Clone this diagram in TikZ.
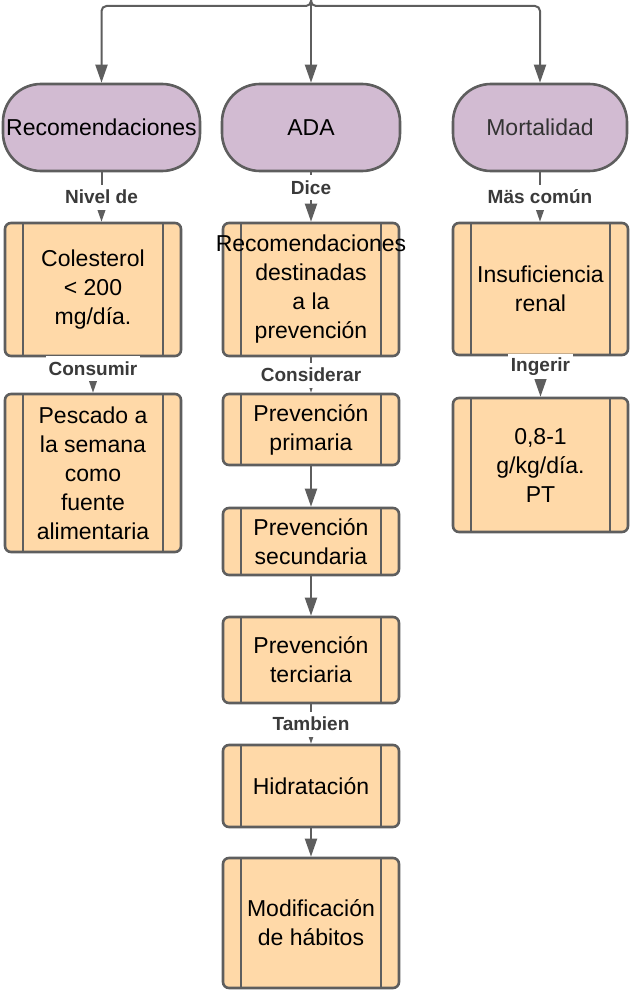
\documentclass[tikz,border=0pt]{standalone}
\usepackage{fontspec}
\setmainfont{Liberation Sans}
\usepackage{tikz}
\usetikzlibrary{arrows.meta, positioning}
\definecolor{termcolor}{RGB}{210,187,210}
\definecolor{proccolor}{RGB}{255,217,168}
\definecolor{linecolor}{RGB}{94,94,94}
\definecolor{lblcolor}{RGB}{58,58,58}

\begin{document}
\begin{tikzpicture}[
    x=0.5pt, y=-0.5pt,
    term/.style={draw=linecolor, line width=1.3pt, fill=termcolor, rounded corners=19pt, minimum width=#1, minimum height=43.5pt, inner sep=0pt, font=\fontsize{11.5}{14.5}\selectfont},
    stepbox/.style={draw=linecolor, line width=1.3pt, fill=proccolor, rounded corners=3pt, minimum width=88pt, minimum height=#1, inner sep=0pt, align=center, font=\fontsize{11.5}{14.5}\selectfont,
        path picture={
            \draw[linecolor, line width=1.3pt] ([xshift=9pt]path picture bounding box.north west) -- ([xshift=9pt]path picture bounding box.south west);
            \draw[linecolor, line width=1.3pt] ([xshift=-9pt]path picture bounding box.north east) -- ([xshift=-9pt]path picture bounding box.south east);
        }},
    arr/.style={draw=linecolor, line width=1pt, -{Triangle[length=9pt, width=6pt]}},
    lbl/.style={fill=white, text=lblcolor, font=\fontsize{9.5}{11}\selectfont\bfseries, inner sep=1.5pt, minimum height=12.5pt}
]
    \useasboundingbox (0,0) rectangle (629,990);

    % Top row
    \node[term=98.5pt] (rec) at (101.5,127.5) {Recomendaciones};
    \node[term=89pt] (ada) at (311,127.5) {ADA};
    \node[term=87pt, text=black!80] (mort) at (540,127.5) {Mortalidad};

    % Left column
    \node[stepbox=66.5pt] (col) at (93,289.5) {Colesterol\\< 200\\mg/día.};
    \node[stepbox=79pt] (pes) at (93,473) {Pescado a\\la semana\\como\\fuente\\alimentaria};

    % Middle column
    \node[stepbox=66.5pt] (rdp) at (311,289.5) {\makebox[0pt]{Recomendaciones}\\destinadas\\a la\\prevención};
    \node[stepbox=35.5pt] (prim) at (311,429.5) {Prevención\\primaria};
    \node[stepbox=33.5pt] (secu) at (311,541.5) {Prevención\\secundaria};
    \node[stepbox=43pt] (terc) at (311,660) {Prevención\\terciaria};
    \node[stepbox=41pt] (hid) at (311,786) {Hidratación};
    \node[stepbox=65pt] (mod) at (311,923) {Modificación\\de hábitos};

    % Right column
    \node[stepbox=66pt, minimum width=87.5pt] (ins) at (540.5,289) {Insuficiencia\\renal};
    \node[stepbox=67pt, minimum width=87.5pt] (gkg) at (540.5,465) {0,8-1\\g/kg/día.\\PT};

    % Incoming branch
    \coordinate (src) at (311,0);
    \coordinate (bar) at (0,6);
    \draw[arr] (src) -- (ada.north);
    \draw[arr, rounded corners=2.5pt] (src) |- (rec.north |- bar) -- (rec.north);
    \draw[arr, rounded corners=2.5pt] (src) |- (mort.north |- bar) -- (mort.north);

    % Connectors
    \draw[arr] (rec.south) -- node[lbl] {Nivel de} (rec.south |- col.north);
    \draw[arr] (ada.south) -- node[lbl, pos=0.31] {Dice} (rdp.north);
    \draw[arr] (mort.south) -- node[lbl] {Mäs común} (mort.south |- ins.north);
    \draw[arr] (col.south) -- node[lbl, pos=0.32] {Consumir} (pes.north);
    \draw[arr] (rdp.south) -- node[lbl] {Considerar} (prim.north);
    \draw[arr] (prim) -- (secu);
    \draw[arr] (secu) -- (terc);
    \draw[arr] (terc.south) -- node[lbl] {Tambien} (hid.north);
    \draw[arr] (hid) -- (mod);
    \draw[arr] (ins.south) -- node[lbl, pos=0.26] {Ingerir} (gkg.north);
\end{tikzpicture}
\end{document}
